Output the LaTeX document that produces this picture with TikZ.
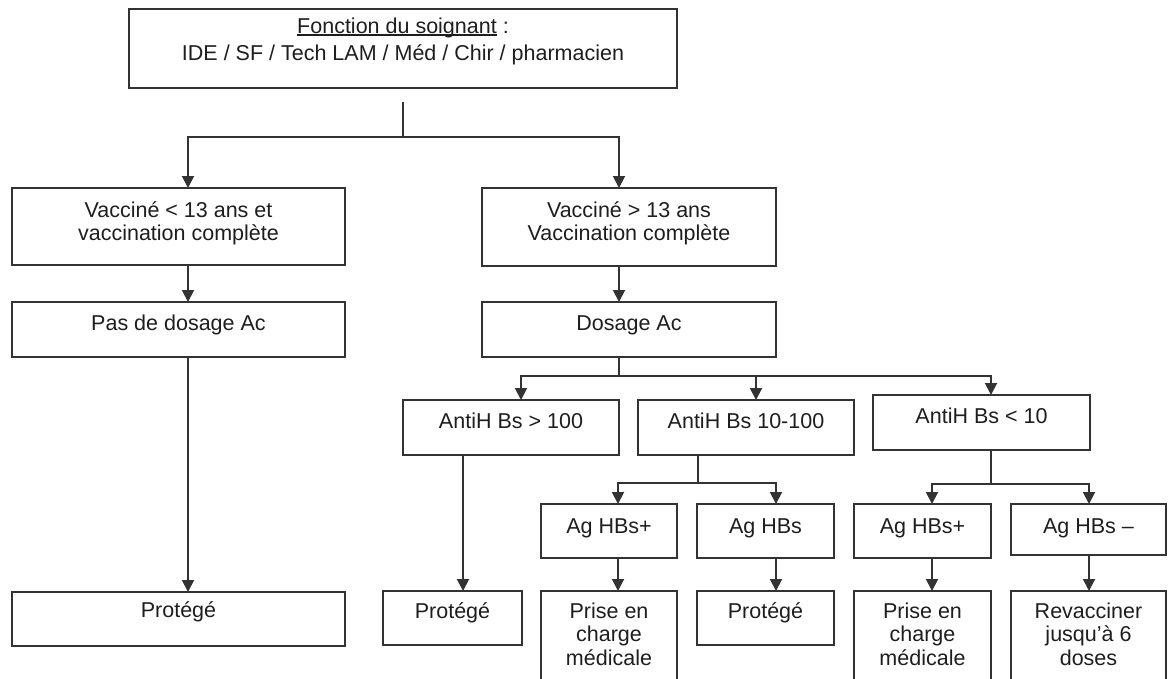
\documentclass[tikz,border=0pt]{standalone}
\usepackage{fontspec}
\setmainfont{Liberation Sans}
\usetikzlibrary{arrows.meta}
\definecolor{ln}{HTML}{333333}
\definecolor{tx}{HTML}{1E1E1E}
\newcommand\boxtxt[4]{\parbox[t][#2][t]{#1}{\centering\rule{0pt}{#3}#4\par}}
\newcommand\myul[1]{\setbox0=\hbox{#1}\rlap{\rule[-2.5pt]{\wd0}{1.2pt}}\box0\relax}
\tikzset{
  box/.style={draw=ln, line width=1.9pt, inner sep=0pt, outer sep=0pt, anchor=north west,
    text=tx, font=\fontsize{21.5pt}{23.5pt}\selectfont},
  conn/.style={draw=ln, line width=1.9pt},
  arr/.style={conn, -{Triangle[width=12pt,length=12pt]}},
}
\begin{document}
\begin{tikzpicture}[x=1pt,y=-1pt]
\useasboundingbox (0,0) rectangle (1168,678);
\fill[white] (0,0) rectangle (1168,678);
\clip (0,0) rectangle (1168,678);
% boxes
\node[box] (top) at (129,9) {\boxtxt{548pt}{79pt}{24pt}{\myul{Fonction du soignant} :\\[3.5pt] IDE / SF / Tech LAM / Méd / Chir / pharmacien}};
\node[box] (v13) at (12,188) {\boxtxt{333pt}{77pt}{29pt}{Vacciné < 13 ans et\\vaccination complète}};
\node[box] (pas) at (12,302) {\boxtxt{333pt}{55pt}{28pt}{Pas de dosage Ac}};
\node[box] (p1) at (12,592) {\boxtxt{333pt}{54pt}{25pt}{Protégé}};
\node[box] (vg) at (482,188) {\boxtxt{294pt}{78pt}{29pt}{Vacciné > 13 ans\\Vaccination complète}};
\node[box] (dos) at (482,302) {\boxtxt{294pt}{55pt}{28pt}{Dosage Ac}};
\node[box] (a100) at (403,400) {\boxtxt{216pt}{55pt}{28pt}{AntiH Bs > 100}};
\node[box] (a1) at (638,400) {\boxtxt{216pt}{55pt}{28pt}{AntiH Bs 10-100}};
\node[box] (a2) at (873,395) {\boxtxt{217pt}{55pt}{28pt}{AntiH Bs < 10}};
\node[box] (agp1) at (541,504) {\boxtxt{136pt}{54pt}{29pt}{Ag HBs+}};
\node[box] (agn) at (697,504) {\boxtxt{137pt}{54pt}{29pt}{Ag HBs}};
\node[box] (agp2) at (854,504) {\boxtxt{137pt}{54pt}{29pt}{Ag HBs+}};
\node[box] (agm) at (1011,504) {\boxtxt{155pt}{51pt}{29pt}{Ag HBs –}};
\node[box] (p2) at (383,591) {\boxtxt{139pt}{54pt}{27pt}{Protégé}};
\node[box] (pr1) at (541,591) {\boxtxt{136pt}{100pt}{27pt}{Prise en\\charge\\médicale}};
\node[box] (p3) at (697,591) {\boxtxt{137pt}{54pt}{27pt}{Protégé}};
\node[box] (pr2) at (854,591) {\boxtxt{137pt}{100pt}{27pt}{Prise en\\charge\\médicale}};
\node[box] (rev) at (1011,591) {\boxtxt{155pt}{100pt}{27pt}{Revacciner\\jusqu’à 6\\doses}};
% connectors
\coordinate (j1) at (403,137);
\draw[conn] ([yshift=-14pt]top.south) -- (j1);
\draw[arr] (j1) -| ([xshift=9.5pt]v13.north);
\draw[arr] (j1) -| ([xshift=-10pt]vg.north);
\draw[arr] ([xshift=9.5pt]v13.south) -- ([xshift=9.5pt]pas.north);
\draw[arr] ([xshift=9.5pt]pas.south) -- ([xshift=9.5pt]p1.north);
\draw[arr] ([xshift=-10pt]vg.south) -- ([xshift=-10pt]dos.north);
\draw[conn] ([xshift=-10pt]dos.south) -- ++(0,19) coordinate (j2);
\draw[arr] (j2) -| ([xshift=10pt]a100.north);
\draw[arr] (j2) -| ([xshift=10pt]a1.north);
\draw[arr] (j2) -| ([xshift=9.5pt]a2.north);
\draw[arr] ([xshift=-48pt]a100.south) -- ([xshift=10.5pt]p2.north);
\draw[conn] ([xshift=-48pt]a1.south) -- ++(0,28) coordinate (j3);
\draw[arr] (j3) -| ([xshift=9pt]agp1.north);
\draw[arr] (j3) -| ([xshift=10.5pt]agn.north);
\draw[conn] ([xshift=9.5pt]a2.south) -- ++(0,34) coordinate (j4);
\draw[arr] (j4) -| ([xshift=9.5pt]agp2.north);
\draw[arr] (j4) -| ([xshift=0.5pt]agm.north);
\draw[arr] ([xshift=9pt]agp1.south) -- ([xshift=9pt]pr1.north);
\draw[arr] ([xshift=10.5pt]agn.south) -- ([xshift=10.5pt]p3.north);
\draw[arr] ([xshift=9.5pt]agp2.south) -- ([xshift=9.5pt]pr2.north);
\draw[arr] ([xshift=0.5pt]agm.south) -- ([xshift=0.5pt]rev.north);
\end{tikzpicture}
\end{document}
